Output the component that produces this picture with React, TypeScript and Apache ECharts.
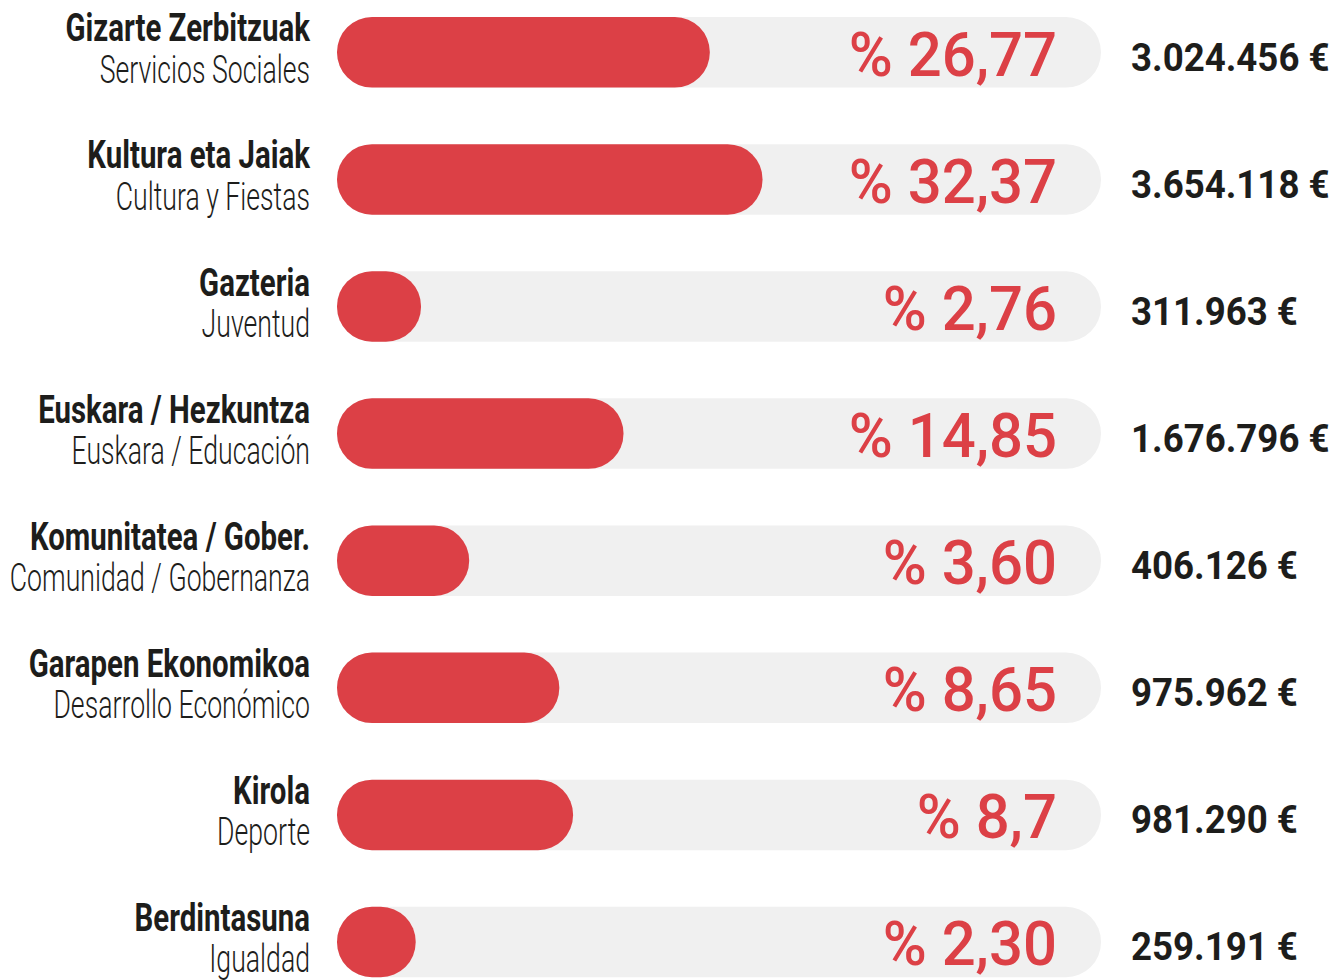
import React, { useEffect, useRef } from "react";
import * as echarts from "echarts";

const categoriesEu = [
  "Gizarte Zerbitzuak",
  "Kultura eta Jaiak",
  "Gazteria",
  "Euskara / Hezkuntza",
  "Komunitatea / Gober.",
  "Garapen Ekonomikoa",
  "Kirola",
  "Berdintasuna",
];
const categoriesEs = [
  "Servicios Sociales",
  "Cultura y Fiestas",
  "Juventud",
  "Euskara / Educación",
  "Comunidad / Gobernanza",
  "Desarrollo Económico",
  "Deporte",
  "Igualdad",
];
const percentLabels = ["26,77", "32,37", "2,76", "14,85", "3,60", "8,65", "8,7", "2,30"];
const amountLabels = ["3.024.456", "3.654.118", "311.963", "1.676.796", "406.126", "975.962", "981.290", "259.191"];
// bar fill as drawn (percentage of the track)
const barFill = [48.8, 55.7, 11.0, 37.5, 17.3, 29.1, 30.9, 10.3];
const trackMax = 100;

const RED = "#dc4046";
const TRACK = "#f0f0f0";
const INK = "#1d1d1b";
const FONT = "Roboto, 'Noto Sans', sans-serif";

const SX_BOLD = 0.745;
const SX_LIGHT = 0.675;
const SX_PCT = 0.965;
const SX_AMT = 0.94;

export default function App() {
  const ref = useRef<HTMLDivElement>(null);
  useEffect(() => {
    if (!ref.current) return;
    const chart = echarts.init(ref.current, undefined, { renderer: "svg" });
    const idx = categoriesEu.map((_, i) => i);
    chart.setOption({
      animation: false,
      grid: { left: 337, right: 234, top: 52.3, bottom: 38, containLabel: false },
      xAxis: {
        type: "value",
        min: 0,
        max: trackMax,
        show: false,
      },
      yAxis: {
        type: "category",
        data: categoriesEu,
        inverse: true,
        boundaryGap: false,
        show: false,
      },
      series: [
        {
          type: "bar",
          data: idx.map(() => trackMax),
          barWidth: 70.5,
          barGap: "-100%",
          itemStyle: { color: TRACK, borderRadius: 35 },
          silent: true,
          z: 1,
        },
        {
          type: "bar",
          data: barFill,
          barWidth: 70.5,
          barGap: "-100%",
          itemStyle: { color: RED, borderRadius: 35 },
          silent: true,
          z: 2,
        },
        {
          type: "custom",
          data: idx.map((i) => [0, i]),
          encode: { x: 0, y: 1 },
          z: 3,
          silent: true,
          renderItem: (params: any, api: any) => {
            const i = api.value(1) as number;
            const left = api.coord([0, i]);
            const right = api.coord([trackMax, i]);
            const cy = left[1];
            return {
              type: "group",
              children: [
                {
                  type: "text",
                  x: left[0] - 27,
                  y: cy - 24,
                  scaleX: SX_BOLD,
                  style: {
                    text: categoriesEu[i],
                    fontFamily: FONT,
                    fontSize: 39.5,
                    fontWeight: 700,
                    fill: INK,
                    align: "right",
                    verticalAlign: "middle",
                  },
                },
                {
                  type: "text",
                  x: left[0] - 27,
                  y: cy + 17,
                  scaleX: SX_LIGHT,
                  style: {
                    text: categoriesEs[i],
                    fontFamily: FONT,
                    fontSize: 39.5,
                    fontWeight: 300,
                    fill: INK,
                    align: "right",
                    verticalAlign: "middle",
                  },
                },
                {
                  type: "text",
                  x: right[0] - 44,
                  y: cy + 2,
                  scaleX: SX_PCT,
                  style: {
                    text: "% " + percentLabels[i],
                    fontFamily: FONT,
                    fontSize: 62,
                    fontWeight: 500,
                    fill: RED,
                    align: "right",
                    verticalAlign: "middle",
                  },
                },
                {
                  type: "text",
                  x: right[0] + 30,
                  y: cy + 5,
                  scaleX: SX_AMT,
                  style: {
                    text: amountLabels[i] + " €",
                    fontFamily: FONT,
                    fontSize: 39,
                    fontWeight: 700,
                    fill: INK,
                    align: "left",
                    verticalAlign: "middle",
                  },
                },
              ],
            };
          },
        },
      ],
    });
    return () => chart.dispose();
  }, []);
  return (
    <div
      ref={ref}
      style={{ position: "absolute", left: 0, top: 0, width: 1335, height: 980, background: "#fff" }}
    />
  );
}
